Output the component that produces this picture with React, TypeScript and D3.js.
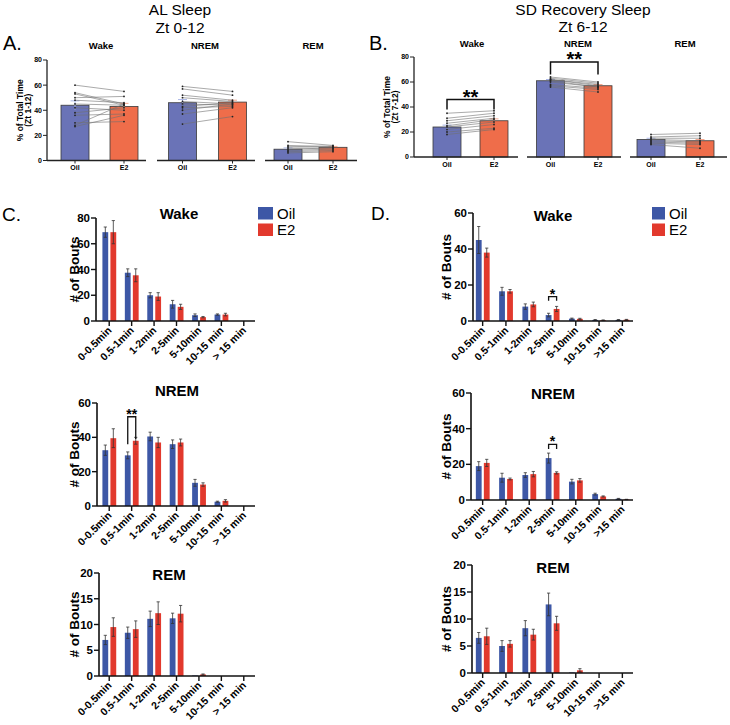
import React from "react";
import * as d3 from "d3";

const FONT = "'Liberation Sans', Arial, Helvetica, sans-serif";

const groups = ["Oil", "E2"];

// Panel A – AL sleep (% of total time)
const alWakeMean = [44, 43];
const alWakeErr = [3.5, 2.5];
const alWakeOil = [60, 54, 53, 50, 48, 45, 42, 38, 36, 30, 28, 27];
const alWakeE2 = [55, 45, 44, 51, 46, 44, 40, 42, 37, 31, 45, 36];
const alNremMean = [46, 46.5];
const alNremErr = [2.5, 1.5];
const alNremOil = [59, 57, 52, 50, 47, 45, 43, 42, 40, 37, 29];
const alNremE2 = [55, 52, 48, 47, 45, 44, 46, 43, 45, 42, 35];
const alRemMean = [9, 10.5];
const alRemErr = [1, 0.7];
const alRemOil = [15, 12, 11, 10, 9, 8, 7, 6];
const alRemE2 = [12, 11, 11.5, 10, 10, 9, 8, 7];

// Panel B – SD recovery sleep (% of total time)
const sdWakeMean = [24, 29];
const sdWakeErr = [1.5, 1.5];
const sdWakeOil = [35, 31, 29, 27, 25, 24, 22, 20, 18];
const sdWakeE2 = [37, 35, 33, 31, 30, 28, 26, 23, 22];
const sdNremMean = [61, 57];
const sdNremErr = [1, 1];
const sdNremOil = [64, 63, 62, 62, 61, 60, 58, 57, 56];
const sdNremE2 = [60, 59, 58, 57, 56, 56, 55, 54, 52];
const sdRemMean = [14, 13];
const sdRemErr = [1, 1];
const sdRemOil = [18, 16, 15, 14, 13, 12, 11, 10];
const sdRemE2 = [19, 17, 15, 13, 12, 11, 10, 7];

const pctTicks = [0, 20, 40, 60, 80];

// Panels C/D – bout counts
const boutCatsC = ["0-0.5min", "0.5-1min", "1-2min", "2-5min", "5-10min", "10-15 min", "> 15 min"];
const boutCatsD = ["0-0.5min", "0.5-1min", "1-2min", "2-5min", "5-10min", "10-15 min", ">15 min"];

const cWakeOil = [69, 37.5, 20, 13, 4.5, 5, 0];
const cWakeOilErr = [4, 3, 2, 3, 1, 0.5, 0];
const cWakeE2 = [69, 35.5, 19, 11, 3, 5, 0];
const cWakeE2Err = [9, 5, 3, 2, 0.5, 1, 0];

const cNremOil = [32.5, 29.5, 40.5, 36, 13.5, 2.5, 0];
const cNremOilErr = [3, 2, 2.5, 2.5, 2, 0.3, 0];
const cNremE2 = [39.5, 38, 37, 37, 12.5, 3, 0];
const cNremE2Err = [5.5, 2, 3, 2, 1, 0.7, 0];

const cRemOil = [7, 8.4, 11.1, 11.2, 0.1, 0, 0];
const cRemOilErr = [0.9, 1.1, 1.5, 1, 0, 0, 0];
const cRemE2 = [9.5, 9.1, 12.2, 12.1, 0.3, 0, 0];
const cRemE2Err = [1.8, 1.6, 2.2, 1.6, 0.1, 0, 0];

const dWakeOil = [45, 16.5, 8, 3.3, 1.3, 0.6, 0.6];
const dWakeOilErr = [7.5, 2.2, 1.5, 1, 0.3, 0.2, 0.2];
const dWakeE2 = [38, 16.5, 9.2, 6.7, 1.2, 0.4, 0.7];
const dWakeE2Err = [2.5, 1, 1.3, 1.4, 0.3, 0.2, 0.2];

const dNremOil = [19, 12.5, 14, 23.5, 10.3, 3.3, 0.7];
const dNremOilErr = [2.5, 2.5, 1.3, 2.8, 1.3, 0.5, 0.2];
const dNremE2 = [20.8, 11.8, 14.5, 15.2, 11, 2, 0.3];
const dNremE2Err = [2, 0.5, 1.5, 0.6, 1, 0.3, 0.1];

const dRemOil = [6.5, 5, 8.3, 12.7, 0.1, 0, 0];
const dRemOilErr = [1, 1, 1.4, 2.1, 0, 0, 0];
const dRemE2 = [6.8, 5.4, 7.1, 9.2, 0.5, 0, 0];
const dRemE2Err = [1.5, 0.6, 1, 1.3, 0.3, 0, 0];

const ticks80 = [0, 20, 40, 60, 80];
const ticks60 = [0, 20, 40, 60];
const ticks20 = [0, 5, 10, 15, 20];

const PAIR_COL = ["#6a73b7", "#ef6d4a"];
const PAIR_ERR = ["#aab6e6", "#f6a88e"];
const BOUT_COL = ["#3d57a6", "#e2392d"];

type Sig = { top: number; legL: number; legR: number; label: string };

type Sub = {
  title: string;
  mean: number[];
  err: number[];
  oil: number[];
  e2: number[];
  centers: [number, number];
  axis: [number, number];
  titleX: number;
  sig?: Sig;
};

function PairedSub({ s, y, titleY, labelY, barW }: { s: Sub; y: d3.ScaleLinear<number, number>; titleY: number; labelY: number; barW: number }) {
  const x = d3.scalePoint<string>().domain(groups).range(s.centers);
  const y0 = y(0);
  const sigFont = 20;
  return (
    <g>
      <text x={s.titleX} y={titleY} textAnchor="middle" fontWeight="bold" fontSize={9.5} fontFamily={FONT}>{s.title}</text>
      {groups.map((g, i) => (
        <rect key={g} x={(x(g) as number) - barW / 2} y={y(s.mean[i])} width={barW} height={y0 - y(s.mean[i])}
          fill={PAIR_COL[i]} stroke="#3a3a3a" strokeWidth={0.8} />
      ))}
      {groups.map((g, i) => {
        const cx = x(g) as number;
        return (
          <g key={"e" + g} stroke={PAIR_ERR[i]} strokeWidth={1}>
            <line x1={cx} x2={cx} y1={y(s.mean[i] - s.err[i])} y2={y(s.mean[i] + s.err[i])} />
            <line x1={cx - 4.5} x2={cx + 4.5} y1={y(s.mean[i] + s.err[i])} y2={y(s.mean[i] + s.err[i])} />
          </g>
        );
      })}
      {s.oil.map((v, i) => (
        <line key={"l" + i} x1={x("Oil")} x2={x("E2")} y1={y(v)} y2={y(s.e2[i])} stroke="#707070" strokeWidth={0.6} />
      ))}
      {s.oil.map((v, i) => (
        <g key={"d" + i} fill="#222">
          <circle cx={x("Oil")} cy={y(v)} r={0.9} />
          <circle cx={x("E2")} cy={y(s.e2[i])} r={0.9} />
        </g>
      ))}
      <line x1={s.axis[0]} x2={s.axis[1]} y1={y0} y2={y0} stroke="#222" strokeWidth={1.5} />
      {groups.map((g) => (
        <g key={"t" + g}>
          <line x1={x(g)} x2={x(g)} y1={y0} y2={y0 + 3} stroke="#222" strokeWidth={1} />
          <text x={x(g)} y={labelY} textAnchor="middle" fontWeight="bold" fontSize={7} fontFamily={FONT}>{g}</text>
        </g>
      ))}
      {s.sig && (
        <g>
          <path d={`M${x("Oil")},${y(s.sig.legL)}V${y(s.sig.top)}H${x("E2")}V${y(s.sig.legR)}`} fill="none" stroke="#111" strokeWidth={1.5} />
          <text x={((x("Oil") as number) + (x("E2") as number)) / 2} y={y(s.sig.top) - 2 + 0.3 * sigFont} textAnchor="middle" fontWeight="bold" fontSize={sigFont} fontFamily={FONT}>{s.sig.label}</text>
        </g>
      )}
    </g>
  );
}

function PairedPanel({ subs, yRange, axisX, titleY, labelY, yLabels, yLabelX }: { subs: Sub[]; yRange: [number, number]; axisX: number; titleY: number; labelY: number; yLabels: string[]; yLabelX: [number, number] }) {
  const y = d3.scaleLinear().domain([0, 80]).range(yRange);
  const mid = (yRange[0] + yRange[1]) / 2;
  return (
    <g>
      <line x1={axisX} x2={axisX} y1={y(0)} y2={y(80)} stroke="#222" strokeWidth={1.3} />
      {pctTicks.map((t) => (
        <g key={t}>
          <line x1={axisX - 4} x2={axisX} y1={y(t)} y2={y(t)} stroke="#222" strokeWidth={1} />
          <text x={axisX - 5} y={y(t)} dy="0.35em" textAnchor="end" fontWeight="bold" fontSize={7} fontFamily={FONT}>{t}</text>
        </g>
      ))}
      {yLabels.map((l, i) => (
        <text key={l} transform={`translate(${yLabelX[i]},${mid}) rotate(-90)`} textAnchor="middle" fontWeight="bold" fontSize={8.5} fontFamily={FONT}>{l}</text>
      ))}
      {subs.map((s) => (
        <PairedSub key={s.title} s={s} y={y} titleY={titleY} labelY={labelY} barW={28} />
      ))}
    </g>
  );
}

type BoutProps = {
  title: string;
  titleY: number;
  cats: string[];
  oil: number[];
  oilErr: number[];
  e2: number[];
  e2Err: number[];
  yMax: number;
  yTicks: number[];
  yRange: [number, number];
  xRange: [number, number];
  axisX: number;
  axisEnd: number;
  titleX: number;
  yLabelX: number;
  sig?: { cat: number; top: number; legL: number; legR: number; label: string; font: number };
  legend?: { x: number; y: number; w: number };
};

function BoutChart(p: BoutProps) {
  const x = d3.scaleBand<string>().domain(p.cats).range(p.xRange);
  const y = d3.scaleLinear().domain([0, p.yMax]).range(p.yRange);
  const bw = 5.8;
  const offs = [-6.8, 1.2];
  const series = [p.oil, p.e2];
  const errs = [p.oilErr, p.e2Err];
  const c = (k: string) => (x(k) as number) + x.bandwidth() / 2;
  const y0 = y(0);
  return (
    <g fontFamily={FONT}>
      <text x={p.titleX} y={p.titleY} textAnchor="middle" fontWeight="bold" fontSize={15}>{p.title}</text>
      {series.map((vals, si) =>
        p.cats.map((k, i) => (
          <rect key={si + k} x={c(k) + offs[si]} y={y(vals[i])} width={bw} height={Math.max(0, y0 - y(vals[i]))} fill={BOUT_COL[si]} />
        ))
      )}
      {series.map((vals, si) =>
        p.cats.map((k, i) => {
          if (errs[si][i] <= 0) return null;
          const cx = c(k) + offs[si] + bw / 2;
          const hi = y(vals[i] + errs[si][i]);
          const lo = y(Math.max(0, vals[i] - errs[si][i]));
          return (
            <g key={"e" + si + k} stroke="#333" strokeWidth={0.8}>
              <line x1={cx} x2={cx} y1={lo} y2={hi} />
              <line x1={cx - 1.6} x2={cx + 1.6} y1={hi} y2={hi} />
              <line x1={cx - 1.6} x2={cx + 1.6} y1={lo} y2={lo} />
            </g>
          );
        })
      )}
      <line x1={p.axisX} x2={p.axisX} y1={y0} y2={y(p.yMax)} stroke="#111" strokeWidth={1.6} />
      <line x1={p.axisX} x2={p.axisEnd} y1={y0} y2={y0} stroke="#111" strokeWidth={1.6} />
      {p.yTicks.map((t) => (
        <g key={t}>
          <line x1={p.axisX - 5} x2={p.axisX} y1={y(t)} y2={y(t)} stroke="#111" strokeWidth={1.4} />
          <text x={p.axisX - 6} y={y(t)} dy="0.36em" textAnchor="end" fontWeight="bold" fontSize={11.5}>{t}</text>
        </g>
      ))}
      <text transform={`translate(${p.yLabelX},${(y0 + y(p.yMax)) / 2}) rotate(-90)`} textAnchor="middle" fontWeight="bold" fontSize={13.5}>
        # of Bouts
      </text>
      {p.cats.map((k) => (
        <g key={"t" + k}>
          <line x1={c(k)} x2={c(k)} y1={y0} y2={y0 + 5} stroke="#111" strokeWidth={1.4} />
          <text transform={`translate(${c(k) + 3},${y0 + 10}) rotate(-45)`} textAnchor="end" fontWeight="bold" fontSize={10.5}>{k}</text>
        </g>
      ))}
      {p.sig && (() => {
        const k = p.cats[p.sig.cat];
        const xl = c(k) + offs[0] + bw / 2;
        const xr = c(k) + offs[1] + bw / 2;
        return (
          <g>
            <path d={`M${xl},${y(p.sig.legL)}V${y(p.sig.top)}H${xr}V${y(p.sig.legR)}`} fill="none" stroke="#111" strokeWidth={1.3} />
            <text x={(xl + xr) / 2} y={y(p.sig.top) - 2 + 0.28 * p.sig.font} textAnchor="middle" fontWeight="bold" fontSize={p.sig.font}>{p.sig.label}</text>
          </g>
        );
      })()}
      {p.legend && (
        <g>
          {groups.map((g, i) => (
            <g key={"lg" + g}>
              <rect x={p.legend!.x} y={p.legend!.y + i * 16.5} width={p.legend!.w} height={12.5} fill={BOUT_COL[i]} />
              <text x={p.legend!.x + p.legend!.w + 4} y={p.legend!.y + i * 16.5 + 11.5} fontSize={15}>{g}</text>
            </g>
          ))}
        </g>
      )}
    </g>
  );
}

export default function App() {
  const subsA: Sub[] = [
    { title: "Wake", mean: alWakeMean, err: alWakeErr, oil: alWakeOil, e2: alWakeE2, centers: [75, 124], axis: [47, 146], titleX: 101 },
    { title: "NREM", mean: alNremMean, err: alNremErr, oil: alNremOil, e2: alNremE2, centers: [182.5, 232.5], axis: [157, 255], titleX: 205 },
    { title: "REM", mean: alRemMean, err: alRemErr, oil: alRemOil, e2: alRemE2, centers: [288, 333], axis: [265, 357], titleX: 313 },
  ];
  const subsB: Sub[] = [
    { title: "Wake", mean: sdWakeMean, err: sdWakeErr, oil: sdWakeOil, e2: sdWakeE2, centers: [447, 494], axis: [414, 518], titleX: 472, sig: { top: 46, legL: 38, legR: 38, label: "**" } },
    { title: "NREM", mean: sdNremMean, err: sdNremErr, oil: sdNremOil, e2: sdNremE2, centers: [550.5, 598], axis: [527, 621], titleX: 578, sig: { top: 76, legL: 66, legR: 66, label: "**" } },
    { title: "REM", mean: sdRemMean, err: sdRemErr, oil: sdRemOil, e2: sdRemE2, centers: [651, 700], axis: [630, 727], titleX: 685 },
  ];
  return (
    <svg width={730} height={725} style={{ position: "absolute", left: 0, top: 0, background: "#fff" }} fontFamily={FONT}>
      <rect width={730} height={725} fill="#fff" />
      <text x={180} y={15} textAnchor="middle" fontSize={15.5}>AL Sleep</text>
      <text x={180} y={32.5} textAnchor="middle" fontSize={15.5}>Zt 0-12</text>
      <text x={583} y={14.5} textAnchor="middle" fontSize={15.5}>SD Recovery Sleep</text>
      <text x={583} y={32} textAnchor="middle" fontSize={15.5}>Zt 6-12</text>
      <text x={3} y={50} fontSize={20}>A.</text>
      <text x={369} y={50} fontSize={20}>B.</text>
      <text x={2} y={221} fontSize={19}>C.</text>
      <text x={371} y={220} fontSize={19}>D.</text>

      <PairedPanel subs={subsA} yRange={[160.5, 60]} axisX={47} titleY={49} labelY={169.5} yLabels={["% of Total Time", "(Zt 1-12)"]} yLabelX={[22.5, 31]} />
      <PairedPanel subs={subsB} yRange={[157, 57]} axisX={414} titleY={47} labelY={167} yLabels={["% of Total Time", "(Zt 7-12)"]} yLabelX={[389.5, 398]} />

      <BoutChart title="Wake" titleY={219} cats={boutCatsC} oil={cWakeOil} oilErr={cWakeOilErr} e2={cWakeE2} e2Err={cWakeE2Err}
        yMax={80} yTicks={ticks80} yRange={[321, 218]} xRange={[98, 255]} axisX={96} axisEnd={255} titleX={179} yLabelX={79}
        legend={{ x: 258, y: 207, w: 15 }} />
      <BoutChart title="NREM" titleY={396} cats={boutCatsC} oil={cNremOil} oilErr={cNremOilErr} e2={cNremE2} e2Err={cNremE2Err}
        yMax={60} yTicks={ticks60} yRange={[506, 403]} xRange={[98, 255]} axisX={97} axisEnd={255} titleX={177} yLabelX={79}
        sig={{ cat: 1, top: 52, legL: 36, legR: 39, label: "**", font: 14 }} />
      <BoutChart title="REM" titleY={580} cats={boutCatsC} oil={cRemOil} oilErr={cRemOilErr} e2={cRemE2} e2Err={cRemE2Err}
        yMax={20} yTicks={ticks20} yRange={[676, 573]} xRange={[98, 255]} axisX={99} axisEnd={255} titleX={169} yLabelX={79} />

      <BoutChart title="Wake" titleY={221} cats={boutCatsD} oil={dWakeOil} oilErr={dWakeOilErr} e2={dWakeE2} e2Err={dWakeE2Err}
        yMax={60} yTicks={ticks60} yRange={[321, 213]} xRange={[471, 634]} axisX={473} axisEnd={633} titleX={553} yLabelX={451}
        sig={{ cat: 3, top: 13.5, legL: 11.3, legR: 11.3, label: "*", font: 14 }}
        legend={{ x: 652, y: 207, w: 13 }} />
      <BoutChart title="NREM" titleY={399} cats={boutCatsD} oil={dNremOil} oilErr={dNremOilErr} e2={dNremE2} e2Err={dNremE2Err}
        yMax={60} yTicks={ticks60} yRange={[500, 393]} xRange={[471, 634]} axisX={471} axisEnd={633} titleX={553} yLabelX={451}
        sig={{ cat: 3, top: 31.2, legL: 28.6, legR: 28.6, label: "*", font: 14 }} />
      <BoutChart title="REM" titleY={573} cats={boutCatsD} oil={dRemOil} oilErr={dRemOilErr} e2={dRemE2} e2Err={dRemE2Err}
        yMax={20} yTicks={ticks20} yRange={[673, 565]} xRange={[471, 634]} axisX={472} axisEnd={633} titleX={553} yLabelX={451} />
    </svg>
  );
}
